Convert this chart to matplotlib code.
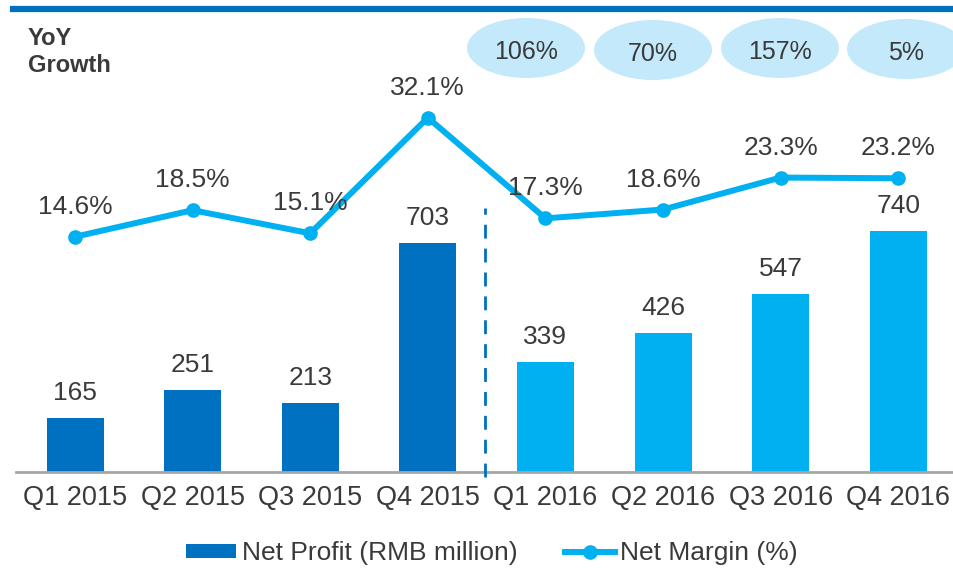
import matplotlib
matplotlib.use("Agg")
import matplotlib.pyplot as plt
from matplotlib.patches import Ellipse
from matplotlib.lines import Line2D
from matplotlib.patches import Patch
import numpy as np

plt.rcParams['font.family'] = ['Liberation Sans', 'DejaVu Sans']

quarters = ["Q1 2015", "Q2 2015", "Q3 2015", "Q4 2015",
            "Q1 2016", "Q2 2016", "Q3 2016", "Q4 2016"]
net_profit = [165, 251, 213, 703, 339, 426, 547, 740]
net_margin = [14.6, 18.5, 15.1, 32.1, 17.3, 18.6, 23.3, 23.2]
yoy_growth = ["106%", "70%", "157%", "5%"]
years = [2015, 2015, 2015, 2015, 2016, 2016, 2016, 2016]

DARK = '#0070C0'
LIGHT = '#00B0F0'
BUBBLE = '#C4E9FB'
TXT = '#3a3a3a'

W, H = 954, 568
fig = plt.figure(figsize=(W / 100, H / 100), dpi=100)

ax_left, ax_right = 16, 954
ax_bottom, ax_top = 472, 10
ax = fig.add_axes([ax_left / W, 1 - ax_bottom / H,
                   (ax_right - ax_left) / W, (ax_bottom - ax_top) / H])
ax2 = ax.twinx()
ax.set_zorder(1)
ax2.set_zorder(2)
ax.patch.set_visible(False)
ax2.patch.set_visible(False)

x = np.arange(len(quarters))
colors = [DARK if y == 2015 else LIGHT for y in years]
ax.bar(x, net_profit, width=0.485, color=colors, zorder=2)
ax.set_xlim(-0.502, 7.474)
ax.set_ylim(0, 462 / 0.3255)

for xi, v in zip(x, net_profit):
    ax.annotate(f"{v}", (xi, v), xytext=(0, 13), textcoords='offset points',
                ha='center', va='baseline', fontsize=19, color=TXT)

ax2.plot(x, net_margin, color=LIGHT, lw=4.3, marker='o', ms=9.5,
         solid_capstyle='round', zorder=3)
ax2.set_ylim(-20, (336 - 10) / 6.8)
for xi, v in zip(x, net_margin):
    ax2.annotate(f"{v:.1f}%", (xi, v), xytext=(0, 16.5), textcoords='offset points',
                 ha='center', va='baseline', fontsize=19, color=TXT, zorder=4)

# divider between years
ax.axvline(3.49, ymin=-5 / 462, ymax=(472 - 208) / 462, color=DARK, lw=2,
           linestyle=(0, (5, 3.6)), clip_on=False, zorder=3)

for a in (ax, ax2):
    for s in ('top', 'right', 'left'):
        a.spines[s].set_visible(False)
    a.tick_params(left=False, right=False, labelleft=False, labelright=False)
ax2.spines['bottom'].set_visible(False)
ax.spines['bottom'].set_color('#a6a6a6')
ax.spines['bottom'].set_linewidth(2)

ax.set_xticks(x)
ax.set_xticklabels(quarters, fontsize=19.5, color=TXT)
ax.tick_params(axis='x', length=0, pad=9)

# top rule
fig.add_artist(Line2D([13 / W, 1], [1 - 9 / H, 1 - 9 / H], color=DARK, lw=4.5,
                      transform=fig.transFigure))

fig.text(28 / W, 1 - 52 / H, "YoY\nGrowth", fontsize=17, fontweight='bold',
         color=TXT, ha='left', va='center', linespacing=1.2)

# YoY growth bubbles
bubble_x = [526, 653, 780, 906]
bubble_y = [48, 50, 48, 49]
for bx, by, t in zip(bubble_x, bubble_y, yoy_growth):
    e = Ellipse((bx / W, 1 - by / H), 118 / W, 60 / H, transform=fig.transFigure,
                facecolor=BUBBLE, edgecolor='none', zorder=0)
    fig.add_artist(e)
    fig.text(bx / W, 1 - (by + 4) / H, t, fontsize=18, color=TXT,
             ha='center', va='center')

handles = [Patch(facecolor=DARK, edgecolor='none', label='Net Profit (RMB million)'),
           Line2D([], [], color=LIGHT, lw=4.3, marker='o', ms=9.5,
                  label='Net Margin (%)')]
fig.legend(handles=handles, loc='center', bbox_to_anchor=(492 / W, 1 - 553 / H),
           ncol=2, frameon=False, fontsize=19, handlelength=1.9, handleheight=0.45,
           handletextpad=0.2, columnspacing=1.8, numpoints=1, labelcolor=TXT)

fig.savefig("out.png", dpi=100)
